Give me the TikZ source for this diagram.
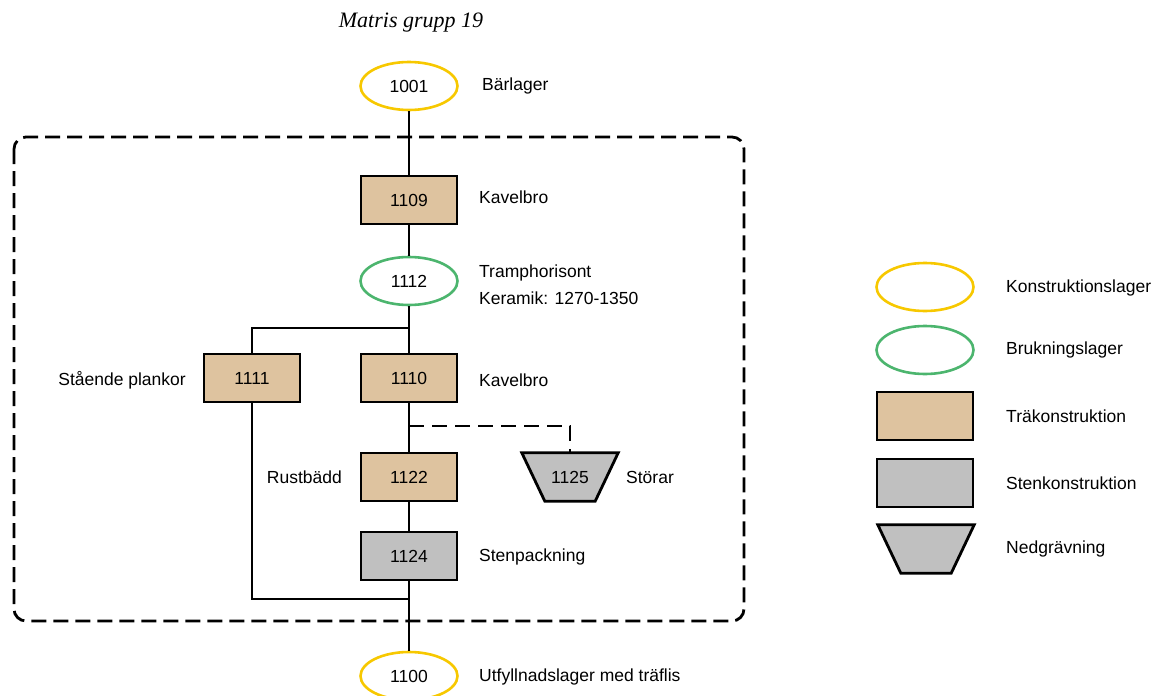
\documentclass[tikz,border=0pt]{standalone}
\usepackage{fontspec}
\setmainfont{Liberation Sans}
\newfontfamily\titlefont{Liberation Serif}
\usetikzlibrary{shapes.geometric,backgrounds}
\definecolor{kyellow}{HTML}{F7C800}
\definecolor{kgreen}{HTML}{4CB56E}
\definecolor{ktan}{HTML}{DEC39F}
\definecolor{kgray}{HTML}{C0C0C0}
\tikzset{
  lay/.style={ellipse, draw, line width=2.6pt, minimum width=97pt, minimum height=48pt, inner sep=0pt, font=\fontsize{17.5}{20}\selectfont},
  konst/.style={lay, draw=kyellow},
  bruk/.style={lay, draw=kgreen},
  box/.style={rectangle, draw=black, line width=2.8pt, minimum width=96pt, minimum height=48pt, inner sep=0pt, font=\fontsize{17.5}{20}\selectfont},
  tra/.style={box, fill=ktan},
  sten/.style={box, fill=kgray},
  grav/.style={rectangle, minimum width=96pt, minimum height=48pt, inner sep=0pt, font=\fontsize{17.5}{20}\selectfont},
  gravshape/.style={draw=black, fill=kgray, line width=2.8pt, line join=miter},
  lbl/.style={anchor=west, inner sep=0pt, font=\fontsize{17.5}{20}\selectfont},
  lblr/.style={anchor=east, inner sep=0pt, font=\fontsize{17.5}{20}\selectfont},
  conn/.style={line width=2.8pt},
  dconn/.style={line width=2.8pt, dash pattern=on 15pt off 8pt},
}
\begin{document}
\begin{tikzpicture}[x=1pt,y=-1pt]
\useasboundingbox (0,0) rectangle (1160,696);
% group box
\draw[line width=2.8pt, dash pattern=on 15pt off 7pt, rounded corners=12pt] (14,137) rectangle (744,621);
% title
\node[inner sep=0pt] (title) at (411,23) {\titlefont\itshape\fontsize{22}{24}\selectfont Matris grupp 19};
% nodes
\node[konst] (n1001) at (409,86) {1001};
\node[tra] (n1109) at (409,200) {1109};
\node[bruk] (n1112) at (409,281) {1112};
\node[tra] (n1111) at (252,378) {1111};
\node[tra] (n1110) at (409,378) {1110};
\node[tra] (n1122) at (409,477) {1122};
\node[grav] (n1125) at (570,477) {1125};
\node[sten] (n1124) at (409,556) {1124};
\node[konst] (n1100) at (409,676) {1100};
% labels
\node[lbl] (l1001) at (482,86) {Bärlager};
\node[lbl] (l1109) at (479,197) {Kavelbro};
\node[lbl] (l1112a) at (479,273) {Tramphorisont};
\node[lbl] (l1112b) at (479,298) {Keramik: 1270-1350};
\node[lblr] (l1111) at (186,380) {Stående plankor};
\node[lbl] (l1110) at (479,380) {Kavelbro};
\node[lblr] (l1122) at (342,477) {Rustbädd};
\node[lbl] (l1125) at (626,477) {Störar};
\node[lbl] (l1124) at (479,557) {Stenpackning};
\node[lbl] (l1100) at (479,677) {Utfyllnadslager med träflis};
% junctions
\coordinate (j1) at (409,328);
\coordinate (j2) at (409,426);
\coordinate (j3) at (409,599);
% connectors
\draw[conn] (n1001.south) -- (n1109.north);
\draw[conn] (n1109.south) -- (n1112.north);
\draw[conn] (n1112.south) -- (n1110.north);
\draw[conn] (j1) -| (n1111.north);
\draw[conn] (n1110.south) -- (n1122.north);
\draw[dconn] (j2) -| (n1125.north);
\draw[conn] (n1122.south) -- (n1124.north);
\draw[conn] (n1111.south) |- (j3);
\draw[conn] (n1124.south) -- (n1100.north);
% legend
\node[konst] (g1) at (925,287) {};
\node[bruk] (g2) at (925,350) {};
\node[tra] (g3) at (925,416) {};
\node[sten] (g4) at (925,483) {};
\node[grav] (g5) at (926,549) {};
\node[lbl] (gl1) at (1006,288) {Konstruktionslager};
\node[lbl] (gl2) at (1006,350) {Brukningslager};
\node[lbl] (gl3) at (1006,416) {Träkonstruktion};
\node[lbl] (gl4) at (1006,483) {Stenkonstruktion};
\node[lbl] (gl5) at (1006,549) {Nedgrävning};
% trapezoid outlines behind the text
\begin{scope}[on background layer]
\foreach \t in {n1125,g5} {
  \filldraw[gravshape] (\t.north west) -- (\t.north east) -- ([xshift=-23pt]\t.south east) -- ([xshift=23pt]\t.south west) -- cycle;
}
\end{scope}
\end{tikzpicture}
\end{document}
